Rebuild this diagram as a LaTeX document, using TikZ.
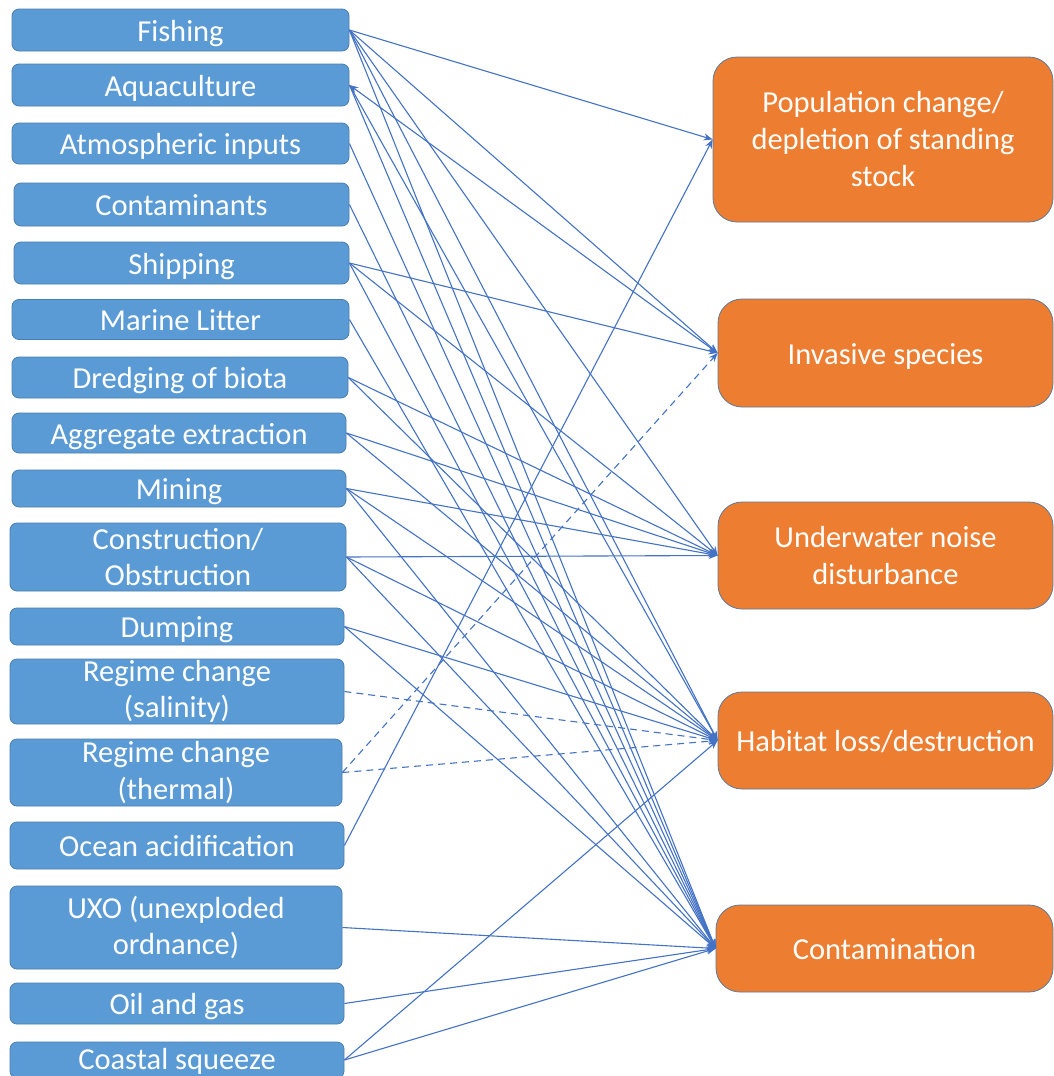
\documentclass[tikz,border=0pt]{standalone}
\usepackage{fontspec}
\setmainfont{Carlito}
\usetikzlibrary{arrows.meta}
\definecolor{boxblue}{HTML}{5B9BD5}
\definecolor{boxblueline}{HTML}{4A7EB0}
\definecolor{boxorange}{HTML}{ED7D31}
\definecolor{boxorangeline}{HTML}{5E7A99}
\definecolor{linkblue}{HTML}{4472C4}
\tikzset{
  srcbox/.style={rectangle, rounded corners=7pt, fill=boxblue, draw=boxblueline, line width=0.8pt,
    text=white, align=center, inner sep=0pt,
    font=\fontsize{30.5}{36.5}\selectfont},
  tgtbox/.style={rectangle, rounded corners=24pt, fill=boxorange, draw=boxorangeline, line width=0.8pt,
    text=white, align=center, inner sep=0pt,
    font=\fontsize{30.5}{37}\selectfont},
  oneline/.style={text height=24pt, text depth=2pt},
  link/.style={draw=linkblue, line width=1.1pt, -{Stealth[length=9pt,width=7pt]}},
  dlink/.style={link, dash pattern=on 7pt off 5pt},
}
\begin{document}
\begin{tikzpicture}[x=1pt,y=-1pt]
\useasboundingbox (0,0) rectangle (1054,1076);
\fill[white] (0,0) rectangle (1054,1076);
\begin{scope}
\clip (0,0) rectangle (1054,1076);
% sources
\node[srcbox, oneline, minimum width=337pt, minimum height=42pt] (fi) at (180.5,30) {Fishing};
\node[srcbox, oneline, minimum width=337pt, minimum height=42pt] (aq) at (180.5,85) {Aquaculture};
\node[srcbox, oneline, minimum width=337pt, minimum height=41pt] (at) at (180.5,143.5) {Atmospheric inputs};
\node[srcbox, oneline, minimum width=335pt, minimum height=43pt] (co) at (181.5,204.5) {Contaminants};
\node[srcbox, oneline, minimum width=335pt, minimum height=42pt] (sh) at (181.5,263) {Shipping};
\node[srcbox, oneline, minimum width=337pt, minimum height=40pt] (ml) at (180.5,319.5) {Marine Litter};
\node[srcbox, oneline, minimum width=336pt, minimum height=41pt] (dr) at (180,377.5) {Dredging of biota};
\node[srcbox, oneline, minimum width=334pt, minimum height=40pt] (ag) at (179,433) {Aggregate extraction};
\node[srcbox, oneline, minimum width=334pt, minimum height=37pt] (mi) at (179,488.5) {Mining};
\node[srcbox, minimum width=336pt, minimum height=68pt] (cn) at (178,557) {Construction/\\Obstruction};
\node[srcbox, oneline, minimum width=334pt, minimum height=37pt] (du) at (177,626.5) {Dumping};
\node[srcbox, minimum width=334pt, minimum height=65pt] (rs) at (177,691.5) {Regime change\\(salinity)};
\node[srcbox, minimum width=332pt, minimum height=67pt] (rt) at (176,772.5) {Regime change\\(thermal)};
\node[srcbox, oneline, minimum width=334pt, minimum height=47pt] (oa) at (177,845.5) {Ocean acidification};
\node[srcbox, minimum width=332pt, minimum height=83pt] (ux) at (176,927.5) {UXO (unexploded\\ordnance)};
\node[srcbox, oneline, minimum width=334pt, minimum height=41pt] (og) at (177,1003.5) {Oil and gas};
\node[srcbox, text height=21pt, text depth=3pt, minimum width=334pt, minimum height=36pt] (cs) at (177,1060) {Coastal squeeze};
% targets
\node[tgtbox, minimum width=340pt, minimum height=165pt] (po) at (883,139.5) {Population change/\\depletion of standing\\stock};
\node[tgtbox, oneline, minimum width=335pt, minimum height=108pt] (iv) at (885.5,353) {Invasive species};
\node[tgtbox, minimum width=335pt, minimum height=107pt] (no) at (885.5,555.5) {Underwater noise\\disturbance};
\node[tgtbox, oneline, minimum width=335pt, minimum height=97pt] (ha) at (885.5,740.5) {Habitat loss/destruction};
\node[tgtbox, oneline, minimum width=337pt, minimum height=87pt] (ct) at (884.5,948.5) {Contamination};
% connectors
\draw[link] (fi.east) -- (po.west);
\draw[link] (fi.east) -- (iv.west);
\draw[link] (fi.east) -- (no.west);
\draw[link] (fi.east) -- (ha.west);
\draw[link] (fi.east) -- (ct.west);
\draw[link, {Stealth[length=9pt,width=7pt]}-{Stealth[length=9pt,width=7pt]}] (aq.east) -- (iv.west);
\draw[link] (aq.east) -- (ha.west);
\draw[link] (aq.east) -- (ct.west);
\draw[link] (at.east) -- (ct.west);
\draw[link] (co.east) -- (ct.west);
\draw[link] (sh.east) -- (iv.west);
\draw[link] (sh.east) -- (no.west);
\draw[link] (sh.east) -- (ct.west);
\draw[link] (ml.east) -- (ct.west);
\draw[link] (dr.east) -- (no.west);
\draw[link] (dr.east) -- (ha.west);
\draw[link] (ag.east) -- (no.west);
\draw[link] (ag.east) -- (ha.west);
\draw[link] (mi.east) -- (no.west);
\draw[link] (mi.east) -- (ha.west);
\draw[link] (mi.east) -- (ct.west);
\draw[link] (cn.east) -- (no.west);
\draw[link] (cn.east) -- (ha.west);
\draw[link] (cn.east) -- (ct.west);
\draw[link] (du.east) -- (ha.west);
\draw[link] (du.east) -- (ct.west);
\draw[dlink] (rs.east) -- (ha.west);
\draw[dlink] (rt.east) -- (ha.west);
\draw[dlink] (rt.east) -- (iv.west);
\draw[link] (oa.east) -- (po.west);
\draw[link] (ux.east) -- (ct.west);
\draw[link] (og.east) -- (ct.west);
\draw[link] (cs.east) -- (ha.west);
\draw[link] (cs.east) -- (ct.west);
\end{scope}
\end{tikzpicture}
\end{document}
